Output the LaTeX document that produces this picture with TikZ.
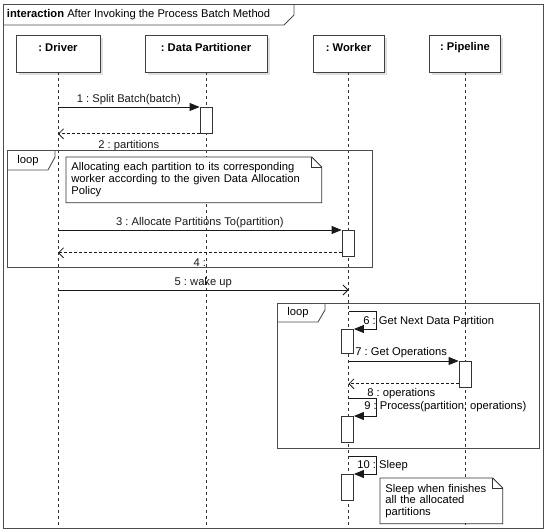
\documentclass[tikz,border=0pt]{standalone}
\usepackage{fontspec}
\setmainfont{Liberation Sans}
\usetikzlibrary{arrows.meta,shadows}
\frenchspacing

\tikzset{
  lbl/.style={font=\fontsize{11.2}{12}\selectfont, inner sep=1.5pt},
  headlbl/.style={font=\fontsize{11.2}{12}\selectfont\bfseries, inner sep=1.5pt},
  head/.style={draw=black!75, fill=white, minimum height=37pt,
    drop shadow={shadow xshift=2.5pt, shadow yshift=-2.5pt, opacity=0.25}},
  life/.style={black!80, dash pattern=on 3pt off 3pt},
  act/.style={draw=black!80, fill=white, minimum width=12pt, anchor=north},
  call/.style={black!90, -{Triangle[length=10pt,width=8pt]}},
  back/.style={black!90, dash pattern=on 3pt off 2pt, -{Straight Barb[length=5pt,width=10pt]}},
  async/.style={black!90, -{Straight Barb[length=5pt,width=10pt]}},
  frm/.style={draw=black!70, line width=0.9pt},
  notebox/.style={font=\fontsize{11.2}{11.8}\selectfont, align=left, anchor=north west,
    inner xsep=5pt, fill=white}
}

\begin{document}
\begin{tikzpicture}[x=1pt, y=-1pt, line width=0.8pt]

  \useasboundingbox (0,0) rectangle (546,530);

  % Outer frame
  \draw[frm] (3,4) rectangle (543,528);
  \draw[frm] (3,25) -- (284,25) -- (294,15) -- (294,4);
  \node[lbl, anchor=west] (title) at (5,15)
    {\textbf{interaction} After Invoking the Process Batch Method};

  % Lifeline heads
  \node[head, minimum width=84pt]  (drv) at (58,53.5)  {};
  \node[head, minimum width=122pt] (dp)  at (206,53.5) {};
  \node[head, minimum width=71pt]  (wk)  at (348.5,53.5) {};
  \node[head, minimum width=71pt]  (pl)  at (465,53.5) {};

  \node[headlbl] (drvt) at ([yshift=-13pt]drv.north) {: Driver};
  \node[headlbl] (dpt)  at ([yshift=-13pt]dp.north)  {: Data Partitioner};
  \node[headlbl] (wkt)  at ([yshift=-13pt]wk.north)  {: Worker};
  \node[headlbl] (plt)  at ([yshift=-13pt]pl.north)  {: Pipeline};

  \coordinate (bot) at (0,528);

  % Lifelines
  \draw[life] (drv.south) -- (drv.south |- bot);
  \draw[life] (dp.south)  -- (dp.south |- bot);
  \draw[life] (wk.south)  -- (wk.south |- bot);
  \draw[life] (pl.south)  -- (pl.south |- bot);

  % Split batch
  \node[act, minimum height=26pt] (a1) at (206,107) {};
  \draw[call] (a1.north west -| drv.south) -- (a1.north west)
    node[lbl, midway, above] (m1) {1 : Split Batch(batch)};
  \draw[back] (a1.south west) -- (a1.south west -| drv.south)
    node[lbl, midway, below=4.5pt] (m2) {2 : partitions};

  % First loop
  \node[frm, minimum width=365pt, minimum height=117pt, anchor=north west, inner sep=0pt] (lp1) at (7,150) {};
  \draw[frm] ([yshift=-20pt]lp1.north west) -- ++(41,0) -- ++(7,-13) -- ++(0,-7);
  \node[lbl, anchor=center] (lp1t) at ([xshift=21pt,yshift=-10.5pt]lp1.north west) {loop};

  \node[notebox, minimum width=255pt, minimum height=45pt, text width=245pt] (n1) at (66,157)
    {Allocating each partition to its corresponding\\worker according to the given Data Allocation\\Policy};
  \draw[black!80] (n1.north west) -- ([xshift=-10pt]n1.north east) -- ([yshift=-10pt]n1.north east)
    -- (n1.south east) -- (n1.south west) -- cycle;
  \draw[black!80] ([xshift=-10pt]n1.north east) |- ([yshift=-10pt]n1.north east);

  \node[act, minimum height=26pt] (a3) at (348,230) {};
  \draw[call] (a3.north west -| drv.south) -- (a3.north west)
    node[lbl, midway, above] (m3) {3 : Allocate Partitions To(partition)};
  \draw[back] ([yshift=4pt]a3.south west) -- ([yshift=4pt]a3.south west -| drv.south)
    node[lbl, midway, below=4.5pt] (m4) {4 :};

  % Wake up
  \coordinate (w5) at (0,290);
  \draw[async] (w5 -| drv.south) -- (w5 -| wk.south)
    node[lbl, midway, above] (m5) {5 : wake up};

  % Second loop
  \node[frm, minimum width=262pt, minimum height=145pt, anchor=north west, inner sep=0pt] (lp2) at (277,303) {};
  \draw[frm] ([yshift=-19pt]lp2.north west) -- ++(41,0) -- ++(7,-12) -- ++(0,-7);
  \node[lbl, anchor=center] (lp2t) at ([xshift=21pt,yshift=-10pt]lp2.north west) {loop};

  \node[act, minimum height=24pt] (a6) at (347.5,329) {};
  \draw[call] ([yshift=18pt]a6.north -| wk.south) -- ++(27.5,0) |- (a6.north east);
  \node[lbl, anchor=west] (m6) at (361.5,320) {6 : Get Next Data Partition};

  \node[act, minimum height=26pt] (a7) at (465,361) {};
  \draw[call] (a7.north west -| wk.south) -- (a7.north west);
  \node[lbl, anchor=west] (m7) at (353.5,353) {7 : Get Operations};
  \draw[back] ([yshift=4pt]a7.south west) -- ([yshift=4pt]a7.south west -| wk.south);
  \node[lbl, anchor=west] (m8) at (365.5,394) {8 : operations};

  \node[act, minimum height=26pt] (a9) at (347.5,416) {};
  \draw[call] ([yshift=18pt]a9.north -| wk.south) -- ++(27.5,0) |- (a9.north east);
  \node[lbl, anchor=west] (m9) at (362.5,407) {9 : Process(partition, operations)};

  % Sleep
  \node[act, minimum height=26pt] (a10) at (347.5,474) {};
  \draw[call] ([yshift=18pt]a10.north -| wk.south) -- ++(27.5,0) |- (a10.north east);
  \node[lbl, anchor=west] (m10) at (355.5,466) {10 : Sleep};

  \node[notebox, minimum width=122pt, minimum height=45pt, text width=112pt] (n2) at (380,478)
    {Sleep when finishes\\all the allocated\\partitions};
  \draw[black!80] (n2.north west) -- ([xshift=-10pt]n2.north east) -- ([yshift=-10pt]n2.north east)
    -- (n2.south east) -- (n2.south west) -- cycle;
  \draw[black!80] ([xshift=-10pt]n2.north east) |- ([yshift=-10pt]n2.north east);

\end{tikzpicture}
\end{document}
